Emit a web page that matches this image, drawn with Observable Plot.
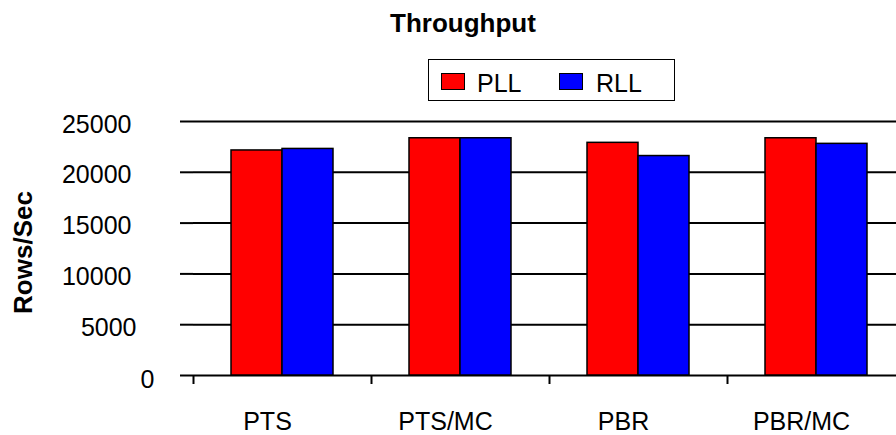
<!DOCTYPE html>
<html><head><meta charset="utf-8">
<script src="https://cdn.jsdelivr.net/npm/d3@7"></script>
<script src="https://cdn.jsdelivr.net/npm/@observablehq/plot@0.6"></script>
<style>
html,body{margin:0;padding:0;background:#fff;overflow:hidden;}
#wrap{position:relative;width:896px;height:435px;overflow:hidden;font-family:"Liberation Sans",Arial,sans-serif;color:#000;}
#chart{position:absolute;left:0;top:0;}
#chart svg{max-width:none !important;}
#title{position:absolute;left:0;width:926px;top:10px;text-align:center;font-weight:bold;font-size:26px;line-height:26px;}
#legendBox{position:absolute;left:428px;top:59px;width:247px;height:42px;box-sizing:border-box;border:1.5px solid #000;background:#fff;}
.sw{position:absolute;width:24px;height:17px;top:73px;box-sizing:border-box;border:1.5px solid #000;}
.lt{position:absolute;top:70.5px;font-size:25px;line-height:25px;white-space:nowrap;}
</style>
</head>
<body>
<div id="wrap">
  <div id="chart"></div>
  <div id="title"></div>
  <div id="legendBox"></div>
</div>
<script>
const categories = ["PTS", "PTS/MC", "PBR", "PBR/MC"];
const pll = [22150, 23350, 22900, 23350];
const rll = [22300, 23350, 21600, 22800];
const seriesNames = ["PLL", "RLL"];
const seriesColors = ["#ff0000", "#0000ff"];
const yTicks = [0, 5000, 10000, 15000, 20000, 25000];
const titleText = "Throughput";
const yLabel = "Rows/Sec";

const rows = categories.map((c, i) => ({category: c, pll: pll[i], rll: rll[i]}));

// tick labels, grouped by digit count (the original aligns shorter labels slightly to the right)
const longTicks = yTicks.filter(d => String(d).length === 5);
const midTicks = yTicks.filter(d => String(d).length === 4);
const shortTicks = yTicks.filter(d => String(d).length === 1);

const chart = Plot.plot({
  width: 905,
  height: 435,
  marginLeft: 193,
  marginRight: 0,
  marginTop: 121,
  marginBottom: 60,
  style: {fontFamily: "Liberation Sans, Arial, sans-serif", fontSize: "25px", background: "transparent", maxWidth: "none", overflow: "visible", color: "#000"},
  x: {type: "band", domain: categories, padding: 0},
  y: {domain: [0, 25000]},
  marks: [
    Plot.ruleY(yTicks, {stroke: "#000", strokeWidth: 2}),
    Plot.barY(rows, {x: "category", y: "pll", fill: seriesColors[0], stroke: "#000", strokeWidth: 1.5, insetLeft: 38, insetRight: 89}),
    Plot.barY(rows, {x: "category", y: "rll", fill: seriesColors[1], stroke: "#000", strokeWidth: 1.5, insetLeft: 89, insetRight: 38}),
    Plot.axisY({ticks: yTicks, tickSize: 13, strokeWidth: 2, label: null, line: true, tickFormat: () => ""}),
    Plot.axisY({ticks: longTicks, tickSize: 0, tickPadding: 62, label: null, dy: 3, tickFormat: d => String(d)}),
    Plot.axisY({ticks: midTicks, tickSize: 0, tickPadding: 57, label: null, dy: 3, tickFormat: d => String(d)}),
    Plot.axisY({ticks: shortTicks, tickSize: 0, tickPadding: 39, label: null, dy: 4, tickFormat: d => String(d)}),
    Plot.axisX({tickSize: 9, dx: -89, tickFormat: () => "", strokeWidth: 2, label: null}),
    Plot.axisX({tickSize: 0, tickPadding: 37, dx: -15, label: null}),
    Plot.text([yLabel], {frameAnchor: "left", text: d => d, rotate: -90, dx: -170, dy: 4, fontWeight: "bold", fontSize: 26, textAnchor: "middle", lineAnchor: "middle"})
  ]
});
document.getElementById("chart").appendChild(chart);
document.getElementById("title").textContent = titleText;

const wrap = document.getElementById("wrap");
seriesNames.forEach((name, i) => {
  const sw = document.createElement("div");
  sw.className = "sw";
  sw.style.left = (441 + i * 118) + "px";
  sw.style.background = seriesColors[i];
  wrap.appendChild(sw);
  const t = document.createElement("div");
  t.className = "lt";
  t.style.left = (477 + i * 119) + "px";
  t.textContent = name;
  wrap.appendChild(t);
});
</script>
</body></html>
